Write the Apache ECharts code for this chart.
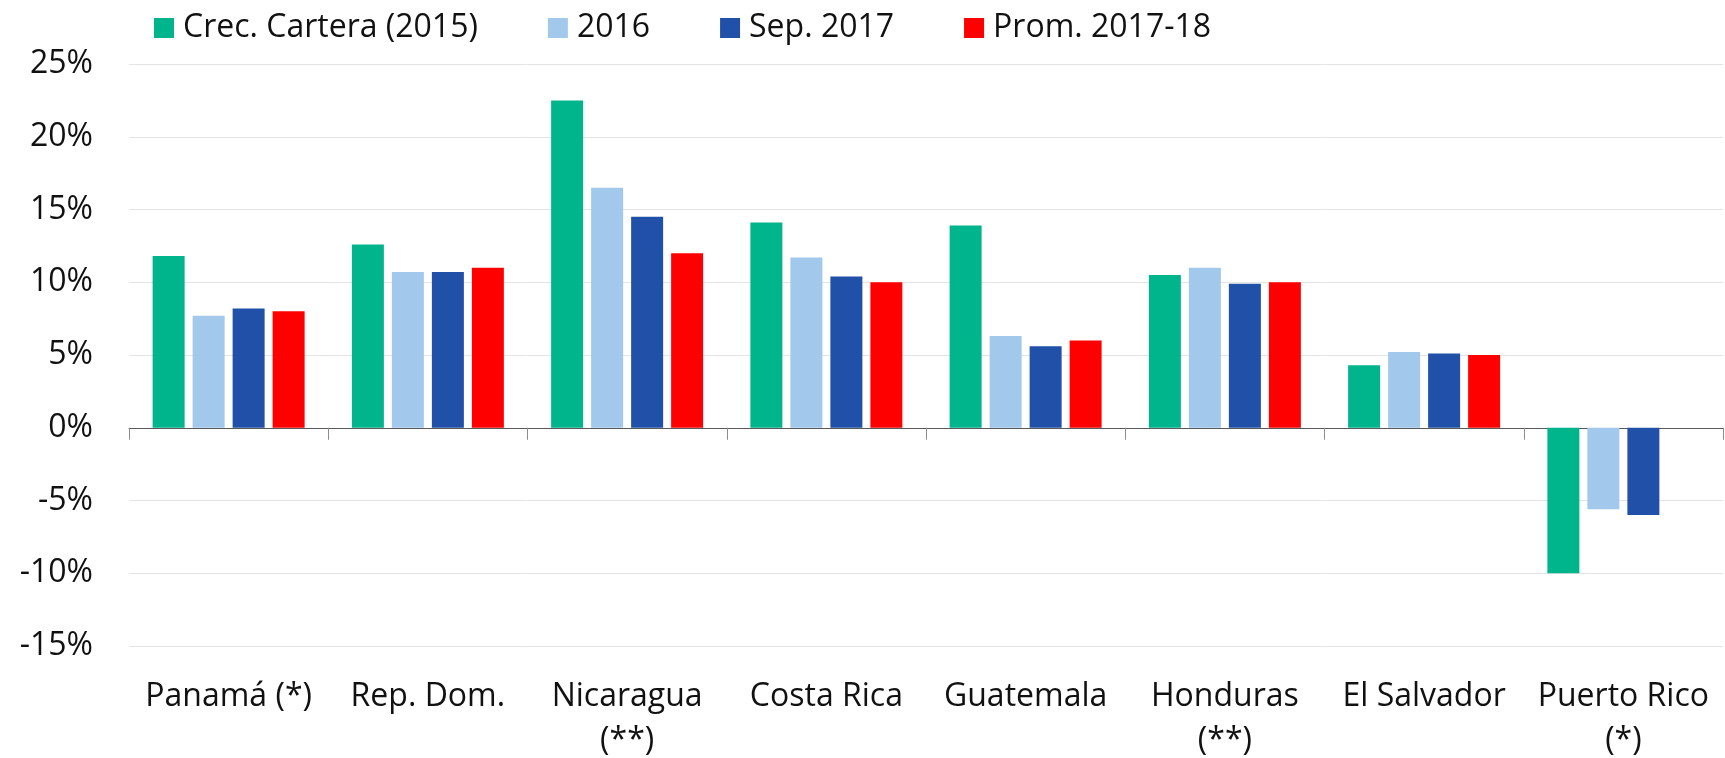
<!DOCTYPE html>
<html>
<head>
<meta charset="utf-8">
<title>Crecimiento de cartera</title>
<script src="https://cdn.jsdelivr.net/npm/echarts@6/dist/echarts.min.js"></script>
<style>
  html, body { margin: 0; padding: 0; background: #fff; }
  #chart { width: 1725px; height: 758px; }
</style>
</head>
<body>
<div id="chart"></div>
<script>
// Countries on the category axis
const countries = [
  'Panamá (*)', 'Rep. Dom.', 'Nicaragua\n(**)', 'Costa Rica',
  'Guatemala', 'Honduras\n(**)', 'El Salvador', 'Puerto Rico\n(*)'
];

// Series names
const seriesNames = ['Crec. Cartera (2015)', '2016', 'Sep. 2017', 'Prom. 2017-18'];

// Loan-portfolio growth, percent
const crec2015 = [11.8, 12.6, 22.5, 14.1, 13.9, 10.5, 4.3, -10.0];
const val2016 = [7.7, 10.7, 16.5, 11.7, 6.3, 11.0, 5.2, -5.6];
const sep2017 = [8.2, 10.7, 14.5, 10.4, 5.6, 9.9, 5.1, -6.0];
const prom201718 = [8.0, 11.0, 12.0, 10.0, 6.0, 10.0, 5.0, null];

// Value axis ticks
const yMin = -15;
const yMax = 25;
const yStep = 5;

const colors = ['#00b48c', '#a2c8ec', '#2050a8', '#ff0000'];
const seriesData = [crec2015, val2016, sep2017, prom201718];

const FONT = '"Open Sans", "Noto Sans", sans-serif';

const chart = echarts.init(document.getElementById('chart'), null, { renderer: 'canvas' });

chart.setOption({
  animation: false,
  color: colors,
  textStyle: { fontFamily: FONT },
  legend: {
    left: 154,
    top: 8,
    padding: 0,
    itemWidth: 20,
    itemHeight: 20,
    itemGap: 70,
    icon: 'rect',
    textStyle: {
      fontFamily: FONT,
      fontSize: 32,
      color: '#111',
      lineHeight: 40,
      padding: [0, 0, 0, 4]
    },
    data: seriesNames
  },
  grid: {
    left: 129,
    right: 2,
    top: 64,
    bottom: 112,
    containLabel: false,
    outerBoundsMode: 'none'
  },
  xAxis: [
    {
      type: 'category',
      data: countries,
      position: 'bottom',
      axisLine: { show: false, onZero: false },
      axisTick: { show: false },
      axisLabel: {
        margin: 29,
        fontFamily: FONT,
        fontSize: 32,
        lineHeight: 44,
        color: '#111',
        interval: 0
      }
    },
    {
      type: 'category',
      data: countries,
      position: 'bottom',
      axisLine: { show: true, onZero: true, lineStyle: { color: '#595959', width: 1 } },
      axisTick: { show: true, length: 12, lineStyle: { color: '#8c8c8c', width: 1 } },
      axisLabel: { show: false }
    }
  ],
  yAxis: {
    type: 'value',
    min: yMin,
    max: yMax,
    interval: yStep,
    axisLine: { show: false },
    axisTick: { show: false },
    splitLine: { lineStyle: { color: '#e4e4e4', width: 1 } },
    axisLabel: {
      margin: 36,
      fontFamily: FONT,
      fontSize: 32,
      color: '#111',
      formatter: '{value}%'
    }
  },
  series: seriesNames.map((name, i) => ({
    name: name,
    type: 'bar',
    xAxisIndex: 0,
    data: seriesData[i],
    barWidth: 32,
    barGap: '25%',
    itemStyle: { color: colors[i] }
  }))
});
</script>
</body>
</html>
